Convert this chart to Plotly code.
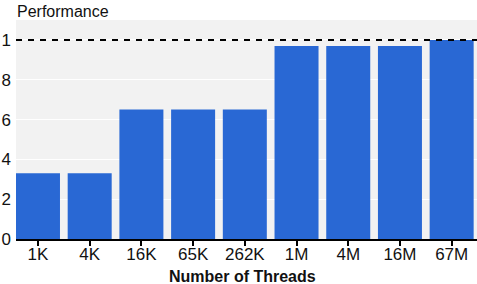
import plotly.graph_objects as go

categories = ["1K", "4K", "16K", "65K", "262K", "1M", "4M", "16M", "67M"]
performance = [0.33, 0.33, 0.65, 0.65, 0.65, 0.97, 0.97, 0.97, 1.0]
y_tick_vals = [0, 0.2, 0.4, 0.6, 0.8, 1.0]
y_tick_text = ["0", "2", "4", "6", "8", "1"]
reference_level = 1.0

fig = go.Figure()
fig.add_trace(go.Bar(x=categories, y=performance, marker_color="#2968d4",
                     marker_line_width=0, hoverinfo="skip"))
fig.add_shape(type="line", xref="paper", x0=0, x1=1, yref="y",
              y0=reference_level, y1=reference_level,
              line=dict(color="black", width=2, dash="6px,6px"), layer="above")
fig.add_annotation(text="Performance", xref="paper", yref="paper", x=0.0, y=1.0,
                   xanchor="left", yanchor="bottom", showarrow=False,
                   font=dict(size=16, color="#111"), yshift=-2, xshift=-1)
fig.add_annotation(text="<b>Number of Threads</b>", xref="paper", yref="paper",
                   x=0.4913, y=0, xanchor="center", yanchor="middle", yshift=-37,
                   showarrow=False, font=dict(size=16, color="#111"))
fig.update_layout(
    width=477, height=284,
    margin=dict(l=16, r=0, t=20, b=45),
    plot_bgcolor="#f2f2f2", paper_bgcolor="white",
    bargap=0.149,
    font=dict(family="Liberation Sans, Arial, sans-serif", size=17, color="#111"),
    showlegend=False,
)
fig.update_xaxes(range=[-0.425, 8.49], showline=True, linecolor="black", linewidth=2,
                 ticks="outside", ticklen=5, tickwidth=2, tickcolor="black",
                 ticklabelstandoff=-6,
                 showgrid=False, automargin=False)
fig.update_yaxes(range=[0, 1.1], tickvals=y_tick_vals, ticktext=y_tick_text,
                 gridcolor="white", gridwidth=1, zeroline=False, ticks="",
                 showline=False, automargin=False, ticklabelstandoff=4)
fig.write_html("out.html", config={"displayModeBar": False},
               post_script="document.body.style.margin='0';")
